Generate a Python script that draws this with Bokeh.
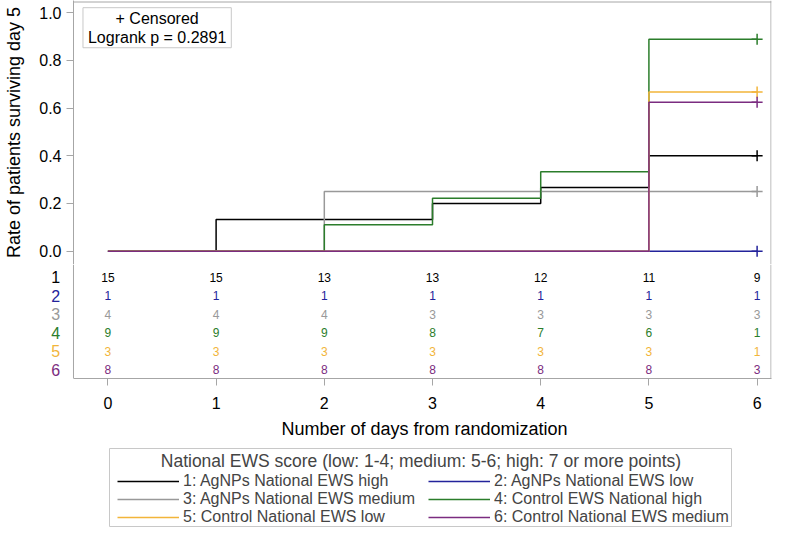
import numpy as np
from bokeh.plotting import figure
from bokeh.layouts import column
from bokeh.models import (Range1d, FixedTicker, Label, Legend, LegendItem,
                          PrintfTickFormatter, Span, Title)
from bokeh.embed import file_html
from bokeh.resources import INLINE
from bokeh.core.properties import value

FONT = "Liberation Sans"

# ---- data ----
group_ids = ["1", "2", "3", "4", "5", "6"]
group_rows = [1, 2, 3, 4, 5, 6]
group_names = [
    "1: AgNPs National EWS high",
    "2: AgNPs National EWS low",
    "3: AgNPs National EWS medium",
    "4: Control EWS National high",
    "5: Control National EWS low",
    "6: Control National EWS medium",
]
colors = ["#000000", "#23239b", "#999999", "#2b7d2b", "#f2b53a", "#7b2c80"]

g1_t = [0, 1, 3, 4, 5, 6]
g1_s = [0.0, 0.133, 0.2, 0.267, 0.4, 0.4]
g2_t = [0, 6]
g2_s = [0.0, 0.0]
g3_t = [0, 2, 6]
g3_s = [0.0, 0.25, 0.25]
g4_t = [0, 2, 3, 4, 5, 6]
g4_s = [0.0, 0.111, 0.222, 0.333, 0.889, 0.889]
g5_t = [0, 5, 6]
g5_s = [0.0, 0.667, 0.667]
g6_t = [0, 5, 6]
g6_s = [0.0, 0.625, 0.625]

censor_t = [6, 6, 6, 6, 6, 6]
censor_s = [0.4, 0.0, 0.25, 0.889, 0.667, 0.625]

risk_days = [0, 1, 2, 3, 4, 5, 6]
risk_1 = [15, 15, 13, 13, 12, 11, 9]
risk_2 = [1, 1, 1, 1, 1, 1, 1]
risk_3 = [4, 4, 4, 3, 3, 3, 3]
risk_4 = [9, 9, 9, 8, 7, 6, 1]
risk_5 = [3, 3, 3, 3, 3, 3, 1]
risk_6 = [8, 8, 8, 8, 8, 8, 3]

y_ticks = [0.0, 0.2, 0.4, 0.6, 0.8, 1.0]
x_label = "Number of days from randomization"
y_label = "Rate of patients surviving day 5"
legend_title = "National EWS score (low: 1-4; medium: 5-6; high: 7 or more points)"
stat_text = "+ Censored\nLogrank p = 0.2891"

times = [g1_t, g2_t, g3_t, g4_t, g5_t, g6_t]
survs = [g1_s, g2_s, g3_s, g4_s, g5_s, g6_s]
risks = [risk_1, risk_2, risk_3, risk_4, risk_5, risk_6]

# ---- layout / style constants ----
GRAY = "#a6a6a6"
X0 = -0.318      # left border of the box
XR = 6.1285      # right border of the box
X1 = 6.133       # right end of the frames
XB0 = -0.9926    # left end of the risk-table frame
ROW_LABEL_X = -0.4815
YT, YB, Y_BORDER = 1.0512, -0.0558, 1.0449


def clean(fig):
    fig.outline_line_color = None
    fig.xgrid.visible = False
    fig.ygrid.visible = False
    fig.background_fill_color = "white"
    fig.border_fill_color = "white"
    fig.frame_align = False


# ---------- survival curves ----------
top = figure(frame_width=698, frame_height=264, min_border_left=73, min_border_right=2,
             min_border_top=0, min_border_bottom=0, x_range=Range1d(X0, X1),
             y_range=Range1d(YB, YT), x_axis_location=None,
             output_backend="svg", toolbar_location=None)
clean(top)

for i in range(6):
    top.step(times[i], survs[i], mode="after", line_color=colors[i], line_width=1.5)
    top.scatter([censor_t[i]], [censor_s[i]], marker="cross", size=11,
                line_color=colors[i], line_width=1.5)

top.add_layout(Span(location=Y_BORDER, dimension="width", line_color=GRAY, line_width=1))
top.add_layout(Span(location=XR, dimension="height", line_color=GRAY, line_width=1))

stat = Label(x=0.455, y=1.021, text=stat_text, text_align="center",
             text_baseline="top", text_font=FONT, text_font_size="16px",
             text_color="#000000", text_line_height=1.12,
             border_line_color="#c8c8c8", background_fill_color="white", padding=2)
try:
    stat.padding = dict(left=5, right=5, top=2, bottom=2)
except Exception:
    stat.padding = 3
top.add_layout(stat)

ya = top.yaxis[0]
ya.ticker = FixedTicker(ticks=y_ticks)
ya.formatter = PrintfTickFormatter(format="%.1f")
ya.axis_label = y_label
ya.axis_label_text_font = FONT
ya.axis_label_text_font_size = "18px"
ya.axis_label_text_font_style = "normal"
ya.axis_label_text_color = "#000000"
ya.major_label_text_font = FONT
ya.major_label_text_font_size = "16px"
ya.major_label_text_color = "#000000"
ya.axis_line_color = GRAY
ya.major_tick_line_color = GRAY
ya.major_tick_out = 7
ya.major_tick_in = 0
ya.minor_tick_line_color = None
ya.major_label_standoff = 5
ya.axis_label_standoff = 12

# ---------- number at risk ----------
bot = figure(frame_width=771, frame_height=114, min_border_left=0, min_border_right=2,
             min_border_top=0, min_border_bottom=0, x_range=Range1d(XB0, X1),
             y_range=Range1d(6.482, 0.3066), y_axis_location=None,
             output_backend="svg", toolbar_location=None)
clean(bot)

for i in range(6):
    bot.text(x=risk_days, y=[group_rows[i]] * len(risk_days),
             text=[str(v) for v in risks[i]], text_align="center", text_baseline="middle",
             text_font=value(FONT), text_font_size="12px", text_color=colors[i])

bot.text(x=[ROW_LABEL_X] * len(group_ids), y=group_rows, text=group_ids,
         text_align="center", text_baseline="middle", text_font=value(FONT),
         text_font_size="16px", text_color=colors)

bot.add_layout(Span(location=X0, dimension="height", line_color=GRAY, line_width=1))
bot.add_layout(Span(location=XR, dimension="height", line_color=GRAY, line_width=1))

xa = bot.xaxis[0]
xa.ticker = FixedTicker(ticks=risk_days)
xa.bounds = (X0, XR)
xa.major_label_text_font = FONT
xa.major_label_text_font_size = "16px"
xa.major_label_text_color = "#000000"
xa.axis_line_color = GRAY
xa.major_tick_line_color = GRAY
xa.major_tick_out = 7
xa.major_tick_in = 0
xa.minor_tick_line_color = None
xa.major_label_standoff = 11

# x-axis title, placed under the box (not under the wider risk-table frame)
bot.add_layout(Title(text=x_label, align="left", offset=281, standoff=11,
                     text_font=FONT, text_font_size="18px", text_font_style="normal",
                     text_color="#000000"), "below")

# ---------- legend ----------
leg = figure(frame_width=622, frame_height=78, min_border_left=109, min_border_right=42,
             min_border_top=4, min_border_bottom=1, x_range=Range1d(0, 1),
             y_range=Range1d(0, 1), x_axis_location=None, y_axis_location=None,
             output_backend="svg", toolbar_location=None)
clean(leg)
leg.outline_line_color = "#c8c8c8"

items = []
for i in range(6):
    r = leg.line(x=[np.nan], y=[np.nan], line_color=colors[i], line_width=1.5)
    items.append(LegendItem(label=group_names[i], renderers=[r]))

legend = Legend(items=items, title="\u00a0" * 9 + legend_title, orientation="horizontal",
                ncols=2, location=(8, 0), glyph_width=62, glyph_height=18, label_height=18,
                label_width=245, label_standoff=4, spacing=0, padding=0, margin=0,
                label_text_font=FONT, label_text_font_size="16px",
                title_text_font=FONT, title_text_font_size="17.5px",
                title_text_font_style="normal", title_standoff=0,
                border_line_color=None, background_fill_alpha=0)
leg.add_layout(legend, "center")

layout = column(top, bot, leg, spacing=0)

open("out.html", "w").write(file_html(layout, INLINE))
